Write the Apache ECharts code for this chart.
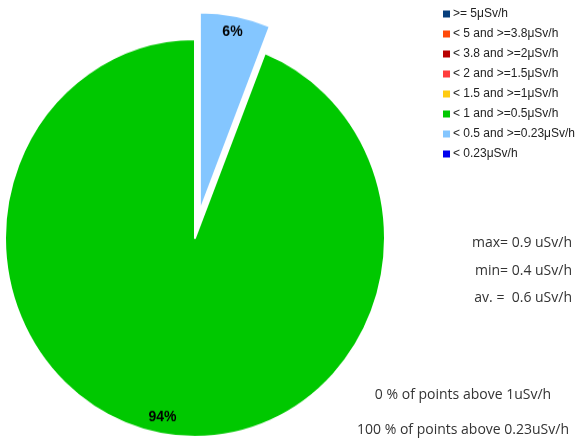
<!DOCTYPE html>
<html><head><meta charset="utf-8">
<script src="https://cdn.jsdelivr.net/npm/echarts@6/dist/echarts.min.js"></script>
<style>html,body{margin:0;padding:0;background:#fff}
#wrap{position:relative;width:576px;height:439px;overflow:hidden}
#p,#c{position:absolute;left:0;top:0;width:576px;height:439px}
#p{transform:scaleY(1.047);transform-origin:195px 238px}
</style>
</head><body><div id="wrap"><div id="p"></div><div id="c"></div></div>
<script>
// Legend categories (legend order)
const categories = [">= 5μSv/h", "< 5 and >=3.8μSv/h", "< 3.8 and >=2μSv/h", "< 2 and >=1.5μSv/h",
  "< 1.5 and >=1μSv/h", "< 1 and >=0.5μSv/h", "< 0.5 and >=0.23μSv/h", "< 0.23μSv/h"];
const colors = ["#063e7c", "#ff4a0a", "#b80000", "#ff3d3d", "#ffcc11", "#00c800", "#84c6ff", "#0000ee"];
// share (%) of points in each category
const shares = [0, 0, 0, 0, 0, 94, 6, 0];
// drawing order clockwise from 12 o'clock
const pieOrder = [6, 5, 0, 1, 2, 3, 4, 7];
const explodedCategory = "< 0.5 and >=0.23μSv/h";
const statLines = ["max= 0.9 uSv/h", "min= 0.4 uSv/h", "av. =  0.6 uSv/h"];
const aboveLines = ["0 % of points above 1uSv/h", "100 % of points above 0.23uSv/h"];

const R = 190, CX = 195, CY = 238;
function pieData(withColor) {
  return pieOrder.map(i => ({
    name: categories[i],
    value: shares[i],
    selected: categories[i] === explodedCategory,
    itemStyle: withColor ? { color: colors[i], borderWidth: shares[i] > 0 ? 2 : 0 } : { color: 'rgba(0,0,0,0)', borderWidth: 0 },
    label: { show: !withColor && shares[i] > 0 }
  }));
}
const pie = echarts.init(document.getElementById('p'));
pie.setOption({
  animation: false,
  series: [{
    type: 'pie', center: [CX, CY], radius: [0, R], startAngle: 90, clockwise: true,
    selectedMode: 'single', selectedOffset: 26, avoidLabelOverlap: false,
    itemStyle: { borderColor: '#fff' },
    label: { show: false }, labelLine: { show: false },
    data: pieData(true), silent: true
  }, {
    type: 'pie', center: [CX, CY], radius: [R * 0.8, R], startAngle: 90, clockwise: true,
    selectedMode: 'single', selectedOffset: 26, avoidLabelOverlap: false,
    label: { position: 'inside', formatter: '{d}%', fontFamily: '"Liberation Sans", Arial, sans-serif', fontWeight: 'bold', fontSize: 14, color: '#000' },
    labelLine: { show: false },
    data: pieData(false), silent: true
  }]
});

const chart = echarts.init(document.getElementById('c'));
const txtFont = '"Open Sans", sans-serif';
chart.setOption({
  animation: false,
  legend: {
    orient: 'vertical', left: 438, top: 2,
    icon: 'rect', itemWidth: 7, itemHeight: 7, itemGap: 6,
    selectedMode: false,
    textStyle: { fontFamily: '"Liberation Sans", Arial, sans-serif', fontSize: 12, color: '#222', padding: [0, 0, 0, -2], lineHeight: 14 },
    data: categories.map((n, i) => ({ name: n, itemStyle: { color: colors[i] } }))
  },
  series: [{ type: 'pie', center: [CX, CY], radius: [0, 0.01], silent: true, label: { show: false }, labelLine: { show: false },
    data: categories.map((n, i) => ({ name: n, value: 0, itemStyle: { color: colors[i], borderWidth: 0 } })) }],
  graphic: [
    ...statLines.map((t, i) => ({ type: 'text', right: 4, top: [236, 264, 291][i],
      style: { text: t, font: '14px ' + txtFont, fill: '#333' } })),
    ...aboveLines.map((t, i) => ({ type: 'text', x: 463, y: [395, 430][i],
      style: { text: t, font: '14px ' + txtFont, fill: '#333', align: 'center', verticalAlign: 'middle' } }))
  ]
});
</script></body></html>
